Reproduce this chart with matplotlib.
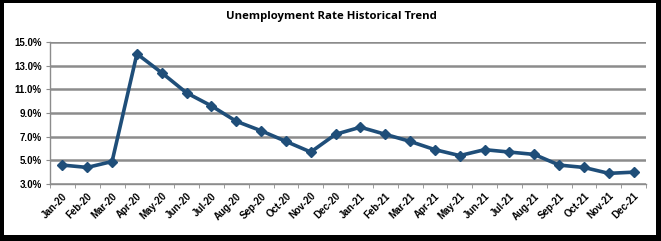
import matplotlib
matplotlib.use("Agg")
import matplotlib.pyplot as plt
from matplotlib.patches import Rectangle
from matplotlib.ticker import FuncFormatter

# Données
months = ["Jan-20", "Feb-20", "Mar-20", "Apr-20", "May-20", "Jun-20",
          "Jul-20", "Aug-20", "Sep-20", "Oct-20", "Nov-20", "Dec-20",
          "Jan-21", "Feb-21", "Mar-21", "Apr-21", "May-21", "Jun-21",
          "Jul-21", "Aug-21", "Sep-21", "Oct-21", "Nov-21", "Dec-21"]
rates = [4.6, 4.4, 4.9, 14.0, 12.4, 10.7,
         9.6, 8.3, 7.5, 6.6, 5.7, 7.2,
         7.8, 7.2, 6.6, 5.9, 5.4, 5.9,
         5.7, 5.5, 4.6, 4.4, 3.9, 4.0]
y_ticks = [3, 5, 7, 9, 11, 13, 15]

W, H = 661, 241
fig = plt.figure(figsize=(W / 100, H / 100), dpi=100, facecolor="black")
# cadre blanc intérieur
fig.patches.append(Rectangle((4 / W, 6 / H), 652 / W, 232 / H,
                             transform=fig.transFigure, facecolor="white",
                             edgecolor="none", zorder=-1))

ax = fig.add_axes([50 / W, 1 - 184 / H, 596 / W, 142 / H])
ax.set_facecolor("white")

x = list(range(len(months)))
ax.plot(x, rates, color="#1f4e79", linewidth=2.6, marker="D",
        markersize=5, zorder=3)

ax.set_xlim(-0.5, len(months) - 0.5)
ax.set_ylim(3, 15)
ax.set_yticks(y_ticks)
ax.yaxis.set_major_formatter(FuncFormatter(lambda v, p: f"{v:.1f}%"))
ax.grid(axis="y", color="#8c8c8c", linewidth=1.8)
ax.set_axisbelow(True)

for s in ["top", "right"]:
    ax.spines[s].set_visible(False)
ax.spines["left"].set_color("#8c8c8c")
ax.spines["bottom"].set_color("#8c8c8c")
ax.spines["left"].set_linewidth(1.0)
ax.spines["bottom"].set_linewidth(1.0)

# graduations entre les catégories
ax.set_xticks([i - 0.5 for i in range(len(months) + 1)], minor=True)
ax.set_xticks(x)
ax.set_xticklabels(months, rotation=45, ha="right", rotation_mode="anchor",
                   fontsize=7, fontweight="bold", family="Liberation Sans")
ax.tick_params(axis="x", which="major", length=0, pad=5)
ax.tick_params(axis="x", which="minor", length=3, color="#8c8c8c")
ax.tick_params(axis="y", length=3, color="#8c8c8c", pad=3)
for lab in ax.get_yticklabels():
    lab.set_fontsize(7)
    lab.set_fontweight("bold")
    lab.set_family("Liberation Sans")

fig.text(331 / W, 1 - 17 / H, "Unemployment Rate Historical Trend",
         ha="center", va="center", fontsize=8.2, fontweight="bold",
         family="Open Sans")

fig.savefig("out.png", dpi=100, facecolor="black")
